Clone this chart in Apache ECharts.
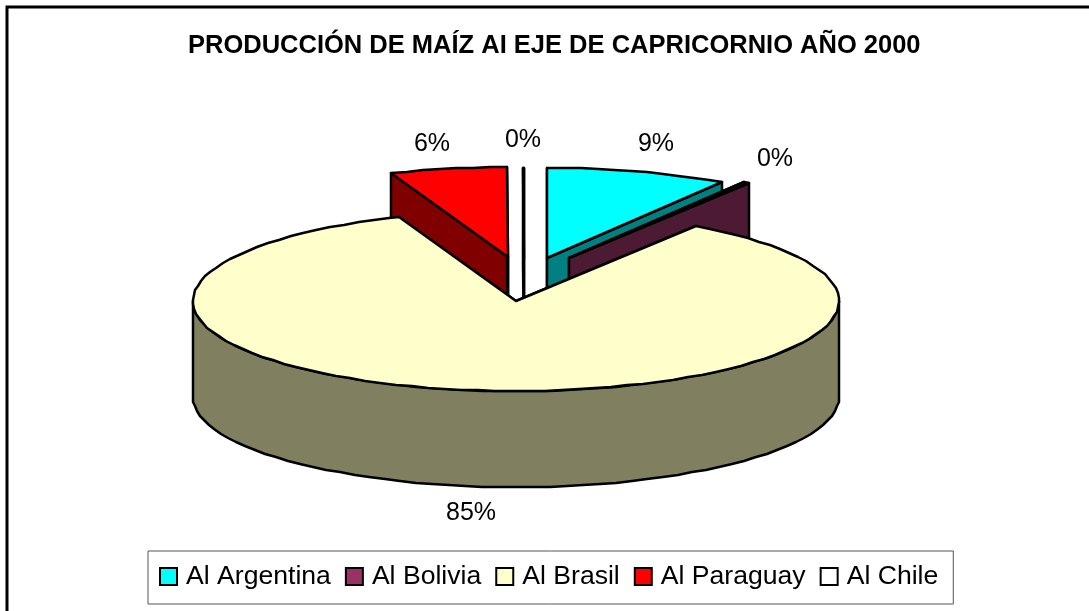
<!DOCTYPE html>
<html>
<head>
<meta charset="utf-8">
<style>html,body{margin:0;padding:0;background:#fff}#chart{width:1089px;height:611px}</style>
<script src="https://cdn.jsdelivr.net/npm/echarts@6/dist/echarts.min.js"></script>
</head>
<body>
<div id="chart"></div>
<script>
// ---- data ----
const titleText = 'PRODUCCIÓN DE MAÍZ AI EJE DE CAPRICORNIO AÑO 2000';
const categories = ['Al Argentina', 'Al Bolivia', 'Al Brasil', 'Al Paraguay', 'Al Chile'];
const shares = [9.1, 0.3, 84.7, 5.85, 0.05];

// ---- styles ----
const topColors = ['#00ffff', '#993366', '#ffffcc', '#ff0000', '#ffffff'];
const wallColors = ['#008080', '#4d1a33', '#808060', '#800000', '#ffffff'];
const legendColors = topColors;

// ---- 3D pie layout ----
const pie = { cx: 516, cy: 301, rx: 323, ry: 90, depth: 96, step: 3 };
const explode = [[31, -43], [53, -43], [0, 0], [-8, -44], [8, -43]];
const labelNudge = [[18, -28], [29, -24], [-10, 27], [-16, -25], [0, -28]];
const paintOrder = [4, 3, 0, 1, 2];

const total = shares.reduce((a, b) => a + b, 0);
const starts = [];
shares.reduce((acc, v, i) => { starts[i] = acc; return acc + v; }, 0);
const rad = d => d * Math.PI / 180;
const font = '"Liberation Sans", Arial, sans-serif';

function rimPoint(ox, oy, deg) {
  return [Math.round(ox + pie.rx * Math.sin(rad(deg))), Math.round(oy - pie.ry * Math.cos(rad(deg)))];
}
function arc(ox, oy, a, b) {
  const pts = [];
  for (let d = a; d < b; d += pie.step) pts.push(rimPoint(ox, oy, d));
  pts.push(rimPoint(ox, oy, b));
  return pts;
}
const down = p => [p[0], p[1] + pie.depth];

function poly(points, fill, z) {
  return { type: 'polygon', z2: z, shape: { points },
    style: { fill, stroke: '#000', lineWidth: 2.5, lineJoin: 'round' } };
}

function renderSlice(i) {
  const a = starts[i] / total * 360;
  const b = (starts[i] + shares[i]) / total * 360;
  const ox = pie.cx + explode[i][0], oy = pie.cy + explode[i][1];
  const apex = [ox, oy];
  const pa = rimPoint(ox, oy, a), pb = rimPoint(ox, oy, b);
  const kids = [];
  kids.push(poly([apex, pa, down(pa), down(apex)], wallColors[i], 1));
  kids.push(poly([apex, pb, down(pb), down(apex)], wallColors[i], 1));
  const ra = Math.max(a, 90), rb = Math.min(b, 270);
  if (rb > ra) {
    const front = arc(ox, oy, ra, rb);
    kids.push(poly(front.concat(front.slice().reverse().map(down)), wallColors[i], 2));
  }
  kids.push(poly([apex].concat(arc(ox, oy, a, b)), topColors[i], 3));
  const mid = rimPoint(ox, oy, (a + b) / 2);
  const lift = (a + b) / 2 > 90 && (a + b) / 2 < 270 ? pie.depth : 0;
  kids.push({ type: 'text', z2: 4, style: {
    text: Math.round(shares[i] / total * 100) + '%',
    x: mid[0] + labelNudge[i][0], y: mid[1] + lift + labelNudge[i][1],
    align: 'center', verticalAlign: 'middle',
    font: '25px ' + font, fill: '#000' } });
  return { type: 'group', children: kids };
}

const chart = echarts.init(document.getElementById('chart'), null, { renderer: 'canvas' });
chart.setOption({
  animation: false,
  backgroundColor: '#fff',
  title: { text: titleText, left: 188, top: 33,
    textStyle: { fontFamily: font, fontWeight: 'bold', fontSize: 25.5, color: '#000' }, padding: 0 },
  legend: {
    left: 148, top: 551, orient: 'horizontal', icon: 'rect',
    itemWidth: 17, itemHeight: 17, itemGap: 14,
    padding: [12, 15, 14, 11],
    borderColor: '#555', borderWidth: 1, backgroundColor: '#fff',
    selectedMode: false,
    data: categories.map((name, i) => ({ name,
      itemStyle: { color: legendColors[i], borderColor: '#000', borderWidth: 2 } })),
    textStyle: { fontFamily: font, fontSize: 26.6, color: '#000', padding: [0, 0, 4, 4] }
  },
  graphic: [{ type: 'polyline', shape: { points: [[7, 611], [7, 7], [1089, 7]] },
    style: { fill: null, stroke: '#000', lineWidth: 3 } }],
  series: categories.map((name, i) => ({
    name, type: 'custom', coordinateSystem: 'none', z: 2 + paintOrder.indexOf(i),
    itemStyle: { color: legendColors[i] },
    data: [[shares[i]]],
    renderItem: () => renderSlice(i)
  }))
});
</script>
</body>
</html>
